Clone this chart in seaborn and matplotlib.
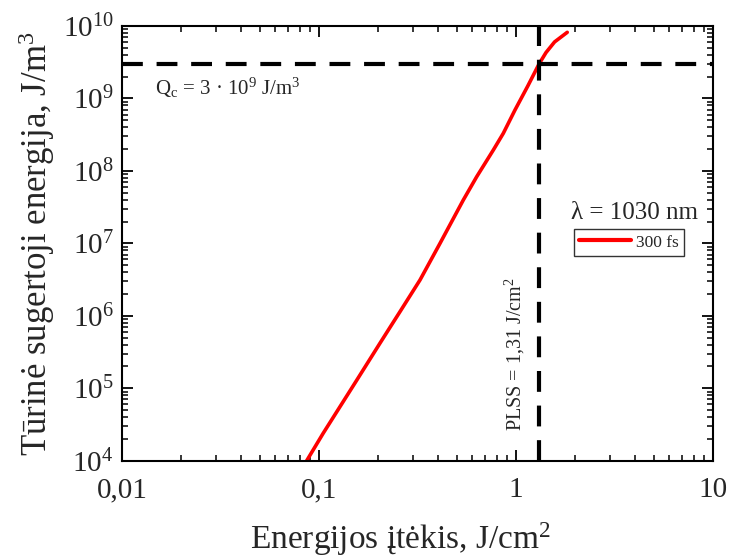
import matplotlib
matplotlib.use("Agg")
import matplotlib.pyplot as plt
import matplotlib.ticker as mticker
import numpy as np
import pandas as pd
import seaborn as sns

# Absorbed volumetric energy vs. laser fluence (300 fs, 1030 nm)
fluence = [0.0866, 0.1051, 0.1554, 0.2040, 0.2293, 0.2577, 0.3256, 0.4114,
           0.540, 0.6316, 0.767, 0.862, 0.988, 1.15, 1.31, 1.42, 1.57, 1.82]
energy = [1.0e4, 2.4e4, 1.29e5, 4.19e5, 6.92e5, 1.14e6, 3.12e6, 1.00e7,
          3.96e7, 8.31e7, 1.94e8, 3.30e8, 6.92e8, 1.5e9, 3.0e9, 4.3e9,
          6.03e9, 8.18e9]

threshold_energy = 3e9
threshold_fluence = 1.31

x_ticks = [0.01, 0.1, 1, 10]
x_tick_labels = ["0,01", "0,1", "1", "10"]
y_ticks = [1e4, 1e5, 1e6, 1e7, 1e8, 1e9, 1e10]

sns.set_theme(style="white")
plt.rcParams["font.family"] = ["Liberation Serif", "DejaVu Serif"]
plt.rcParams["mathtext.fontset"] = "custom"
plt.rcParams["mathtext.rm"] = "Liberation Serif"
plt.rcParams["mathtext.it"] = "Liberation Serif:italic"
plt.rcParams["mathtext.bf"] = "Liberation Serif:bold"

df = pd.DataFrame({"fluence": fluence, "energy": energy, "pulse": "300 fs"})

fig = plt.figure(figsize=(7.31, 5.59), dpi=100)
ax = fig.add_axes([122 / 731, 1 - 460.7 / 559, (713 - 122) / 731, (460.7 - 26) / 559])

sns.lineplot(data=df, x="fluence", y="energy", hue="pulse", palette=["#ff0000"],
             sort=False, linewidth=2.6, ax=ax, legend=True, estimator=None)

ax.set_xscale("log")
ax.set_yscale("log")
ax.set_xlim(0.01, 10)
ax.set_ylim(1e4, 1e10)

ax.axhline(threshold_energy, color="black", linewidth=3, dashes=(5, 3.3))
ax.axvline(threshold_fluence, color="black", linewidth=3, dashes=(5, 3.3))

ax.set_xticks(x_ticks)
ax.set_xticklabels(x_tick_labels)
ax.set_yticks(y_ticks)
ax.yaxis.set_major_formatter(mticker.FuncFormatter(
    lambda v, p: r"$10^{%d}$" % int(round(np.log10(v)))))
ax.xaxis.set_minor_locator(mticker.LogLocator(base=10, subs=np.arange(2, 10)))
ax.yaxis.set_minor_locator(mticker.LogLocator(base=10, subs=np.arange(2, 10)))
ax.xaxis.set_minor_formatter(mticker.NullFormatter())
ax.yaxis.set_minor_formatter(mticker.NullFormatter())

ax.tick_params(which="both", direction="in", top=True, right=True,
               bottom=True, left=True, color="black")
ax.tick_params(which="major", length=8, width=1.3, labelsize=21, pad=6)
ax.tick_params(axis="x", which="major", pad=12)
ax.tick_params(which="minor", length=4.5, width=1.1)

for sp in ax.spines.values():
    sp.set_color("black")
    sp.set_linewidth(1.5)

ax.set_xlabel(r"Energijos įtėkis, J/cm$^2$", fontsize=24)
ax.xaxis.set_label_coords(0.472, -0.138)
ax.set_ylabel(r"Tūrinė sugertoji energija, J/m$^3$", fontsize=25, labelpad=4)

ax.text(0.056, 0.857, r"Q$_{\mathregular{c}}$ = 3 · 10$^9$ J/m$^3$",
        transform=ax.transAxes, fontsize=15, ha="left", va="center")
ax.text(0.868, 0.57, "λ = 1030 nm", transform=ax.transAxes,
        fontsize=18, ha="center", va="center")
ax.text(0.665, 0.245, r"PLSS = 1,31 J/cm$^2$", transform=ax.transAxes,
        fontsize=14.5, rotation=90, ha="center", va="center")

leg = ax.legend(loc="center", bbox_to_anchor=(0.858, 0.502), fontsize=12.5,
                frameon=True, fancybox=False, edgecolor="black",
                handlelength=3.0, borderpad=0.3, handletextpad=0.3,
                borderaxespad=0)
leg.get_frame().set_linewidth(1.0)
for line in leg.get_lines():
    line.set_linewidth(3)

fig.savefig("out.png", dpi=100)
